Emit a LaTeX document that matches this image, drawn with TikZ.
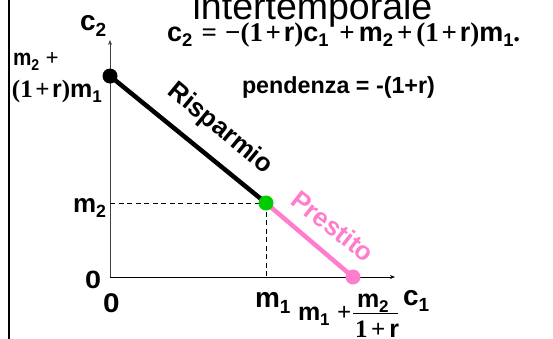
\documentclass[tikz,border=0pt]{standalone}
\usepackage{fontspec}
\setmainfont{Liberation Sans}
\newfontfamily\serf{Liberation Serif}
\usetikzlibrary{arrows.meta}
\definecolor{pinkline}{RGB}{255,125,205}
\definecolor{greendot}{RGB}{0,205,0}
\newcommand\Sb[1]{\raisebox{-0.22em}{\scalebox{0.68}{#1}}}
\newcommand\Sr[1]{{\serf #1}}
\newcommand\fs[1]{\fontsize{#1}{#1}\selectfont}
\begin{document}
\begin{tikzpicture}[x=1pt,y=-1pt,
  every node/.style={inner sep=0pt, outer sep=0pt},
  lbl/.style={font=\bfseries, anchor=base west},
  dot/.style={circle, minimum size=15pt, inner sep=0pt},
  axis/.style={line width=0.9pt, -{Stealth[length=5pt,width=4pt]}},
  dashline/.style={line width=1pt, dash pattern=on 5pt off 3.5pt},
  budget/.style={line width=4.5pt}]
\useasboundingbox (0,0) rectangle (553,338);
\clip (0,0) rectangle (553,338);
% frame line at left
\draw[line width=2pt] (9,-2) -- (9,340);
% key points
\coordinate (O) at (110,277);
\coordinate (a) at (110,76);
\coordinate (g) at (266,203);
\coordinate (p) at (353,277);
\coordinate (ytip) at (110,40);
\coordinate (xtip) at (395,277);
% axes
\draw[axis, black!75] (O) -- (ytip);
\draw[axis] (O) -- (xtip);
% dashed guides
\draw[dashline] (O |- g) -- (g);
\draw[dashline] (g) -- (g |- O);
% budget line
\draw[budget, black] (a) -- (g);
\draw[budget, pinkline] (g) -- (p);
\node[dot, fill=black] (A) at (a) {};
\node[dot, fill=greendot] (G) at (g) {};
\node[dot, fill=pinkline] (P) at (p) {};
% title and equation
\node[font=\fs{37.5}, anchor=base] (title) at (312.5,19) {intertemporale};
\node[lbl, font=\bfseries\fs{27}] (eq) at (167,41) {c\Sb{2}\hspace{0.35em}\Sr{=}\hspace{0.3em}\Sr{−(\textbf{1}}\hspace{0.1em}\Sr{+}\hspace{0.1em}r\Sr{)}c\Sb{1}\hspace{0.4em}\Sr{+}\hspace{0.15em}m\Sb{2}\hspace{0.15em}\Sr{+}\hspace{0.15em}\Sr{\textbf{(1}}\hspace{0.1em}\Sr{+}\hspace{0.1em}r\Sr{\textbf{)}}m\Sb{1}\Sr{\textbf{.}}};
\node[lbl, font=\bfseries\fs{23.3}] (slope) at (242,93) {pendenza = -(1+r)};
% axis labels
\node[lbl, font=\bfseries\fs{28}] (c2) at (80,30) {c\Sb{2}};
\node[lbl, font=\bfseries\fs{23}] (ym) at (13,65) {\scalebox{0.9}[1]{m\Sb{2}} \Sr{+}};
\node[lbl, font=\bfseries\fs{25}] (ym2) at (12,97) {\Sr{\textbf{(1}}\hspace{0.1em}\Sr{+}\hspace{0.1em}r\Sr{\textbf{)}}m\Sb{1}};
\node[lbl, font=\bfseries\fs{26}] (m2) at (73,212) {m\Sb{2}};
\node[lbl, font=\bfseries\fs{25}] (zy) at (85,288) {\scalebox{1.15}[1]{0}};
\node[lbl, font=\bfseries\fs{27}] (zx) at (103,312) {\scalebox{1.1}[1]{0}};
\node[lbl, font=\bfseries\fs{28}] (m1) at (255,307) {m\Sb{1}};
\node[lbl, font=\bfseries\fs{28}] (c1) at (403,305) {c\Sb{1}};
\node[lbl, font=\bfseries\fs{25}] (xint) at (298,320) {m\Sb{1}\hspace{0.3em}\Sr{+}};
\node[lbl, font=\bfseries\fs{25}] (num) at (357,307) {m\Sb{2}};
\node[lbl, font=\bfseries\fs{25}] (den) at (355,337) {\Sr{\textbf{1}}\hspace{0.15em}\Sr{+}\hspace{0.15em}r};
\draw[line width=1pt] (353,313) -- (398,313);
% segment labels
\node[font=\bfseries\fs{26}, rotate=-39.5] (ris) at (220,129) {Risparmio};
\node[font=\bfseries\fs{26}, rotate=-38, text=pinkline] (pre) at (333,226) {Prestito};
\end{tikzpicture}
\end{document}
